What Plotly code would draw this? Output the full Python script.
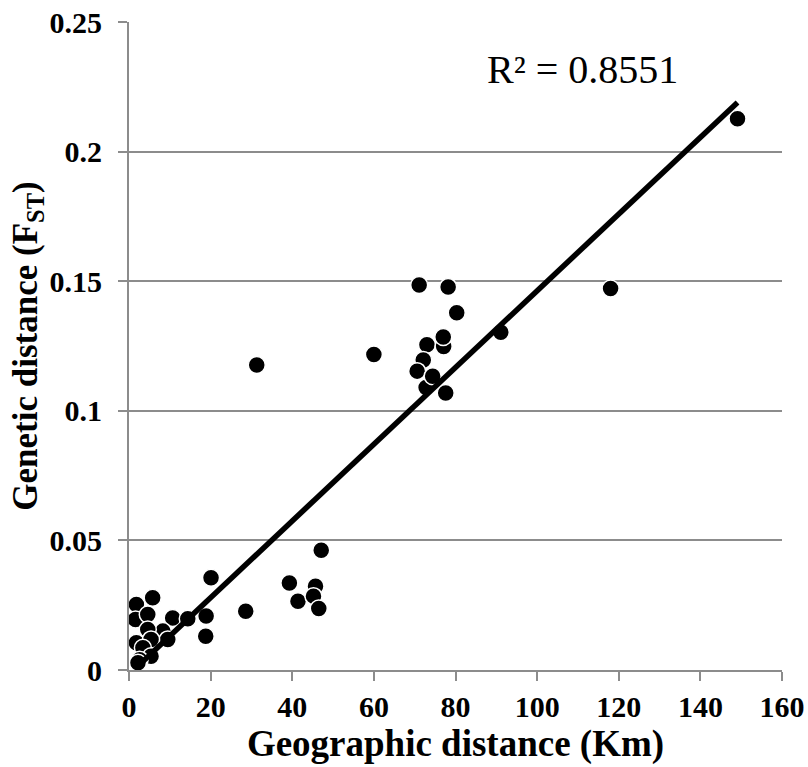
import plotly.graph_objects as go

# Data
geo_km = [1.8, 1.6, 4.6, 5.8, 10.7, 14.4, 18.9, 18.8, 8.3, 9.5, 4.6, 1.8, 5.4, 3.4, 5.4, 2.6, 2.2,
          20.1, 28.6,
          39.3, 41.4, 45.7, 45.2, 46.5, 47.1,
          31.3, 60.0, 71.1, 78.2, 80.3, 73.0, 77.1, 77.0, 72.1, 70.6, 72.8, 74.4, 77.6,
          91.1, 118.0, 149.1]
fst = [0.0253, 0.0195, 0.0214, 0.0279, 0.0201, 0.0198, 0.0208, 0.0130, 0.0150, 0.0118, 0.0156, 0.0105,
       0.0118, 0.0086, 0.0053, 0.0040, 0.0028,
       0.0356, 0.0227,
       0.0336, 0.0265, 0.0323, 0.0285, 0.0237, 0.0462,
       0.1177, 0.1217, 0.1485, 0.1478, 0.1378, 0.1255, 0.1248, 0.1285, 0.1196, 0.1153, 0.1090, 0.1133, 0.1069,
       0.1303, 0.1472, 0.2127]

trend_slope = 0.00148
trend_intercept = -0.0017
trend_x = [2.2, 149.1]
trend_y = [trend_slope * x + trend_intercept for x in trend_x]

x_ticks = [0, 20, 40, 60, 80, 100, 120, 140, 160]
y_ticks = [0, 0.05, 0.1, 0.15, 0.2, 0.25]
y_tick_labels = ["0", "0.05", "0.1", "0.15", "0.2", "0.25"]

serif = "Liberation Serif, Times New Roman, serif"
gray = "#8c8c8c"

fig = go.Figure()
fig.add_trace(go.Scatter(
    x=geo_km, y=fst, mode="markers",
    marker=dict(color="black", size=17, line=dict(color="white", width=1.5)),
    showlegend=False, hoverinfo="x+y"))
fig.add_trace(go.Scatter(
    x=trend_x, y=trend_y, mode="lines",
    line=dict(color="black", width=5.5), showlegend=False))

fig.add_annotation(
    text="R² = 0.8551", xref="paper", yref="paper", x=0.695, y=0.926,
    xanchor="center", yanchor="middle",
    showarrow=False, font=dict(family=serif, size=40, color="black"))

fig.update_layout(
    width=808, height=767,
    margin=dict(l=129, r=26, t=22, b=97),
    paper_bgcolor="white", plot_bgcolor="white",
    font=dict(family=serif, color="black"),
    xaxis=dict(
        range=[0, 160], tickvals=x_ticks, showgrid=False, zeroline=False,
        showline=True, linecolor=gray, linewidth=2, automargin=False,
        ticks="outside", ticklen=9, tickwidth=2, tickcolor=gray,
        tickfont=dict(family=serif, size=30, color="black", weight="bold"),
        title=dict(text="<b>Geographic distance (Km)</b>",
                   font=dict(family=serif, size=37, color="black"), standoff=4),
    ),
    yaxis=dict(
        range=[0, 0.25], tickvals=y_ticks, ticktext=y_tick_labels,
        showgrid=True, gridcolor=gray, gridwidth=2, zeroline=False,
        showline=True, linecolor=gray, linewidth=2, automargin=False,
        ticks="outside", ticklen=9, tickwidth=2, tickcolor=gray,
        ticklabelposition="outside", ticklabelstandoff=10,
        tickfont=dict(family=serif, size=30, color="black", weight="bold"),
        title=dict(text="<b>Genetic distance (F<sub>ST</sub>)</b>",
                   font=dict(family=serif, size=35, color="black"), standoff=0),
    ),
)

fig.write_html("out.html")
